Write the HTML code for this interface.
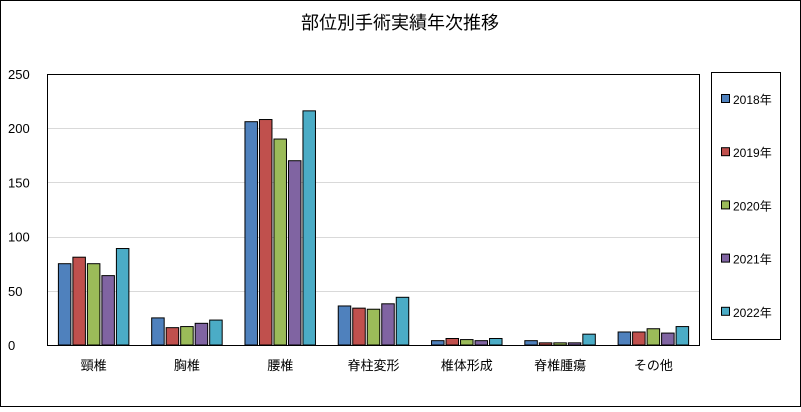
<!DOCTYPE html>
<html><head><meta charset="utf-8"><style>
body{margin:0;background:#fff}
svg text{font-family:"Liberation Sans","Noto Sans CJK JP",sans-serif}
</style></head><body>
<svg width="801" height="407" viewBox="0 0 801 407">
<rect x="0.5" y="0.5" width="800" height="406" fill="#fff" stroke="#000"/>
<text x="400" y="29" font-size="18" text-anchor="middle" fill="#000">部位別手術実績年次推移</text>
<g id="grid"></g>
<g id="bars"></g>
<rect x="47.5" y="74.5" width="652" height="271" fill="none" stroke="#000"/>
<g id="legend"><rect x="711.5" y="72.5" width="69" height="267" fill="#fff" stroke="#000"/></g>
</svg>
<script>
const categories=["頸椎","胸椎","腰椎","脊柱変形","椎体形成","脊椎腫瘍","その他"];
const seriesNames=["2018年","2019年","2020年","2021年","2022年"];
const s2018=[75,25,206,36,4,4,12];
const s2019=[81,16,208,34,6,2,12];
const s2020=[75,17,190,33,5,2,15];
const s2021=[64,20,170,38,4,2,11];
const s2022=[89,23,216,44,6,10,17];
const yTicks=[0,50,100,150,200,250];
const colors=["#4f81bd","#c0504d","#9bbb59","#8064a2","#4bacc6"];
const series=[s2018,s2019,s2020,s2021,s2022];
const NS="http://www.w3.org/2000/svg";
const X0=47,X1=700,Y0=345,Y1=74,YMAX=250;
const y=v=>Y0-(v/YMAX)*(Y0-Y1);
const bandW=(X1-X0)/categories.length;
const grid=document.getElementById('grid'),bars=document.getElementById('bars'),leg=document.getElementById('legend');
function mk(tag,attrs,parent){const e=document.createElementNS(NS,tag);for(const k in attrs)e.setAttribute(k,attrs[k]);parent.appendChild(e);return e;}
yTicks.forEach(t=>{
  const yy=Math.round(y(t))+0.5;
  if(t>0&&t<YMAX){const l=mk('line',{x1:X0,x2:X1,y1:yy,y2:yy,stroke:'#d9d9d9'},grid);
  
  }
  const tx=mk('text',{x:8,y:y(t)+5,'font-size':13,fill:'#000'},grid);
  tx.textContent=t;
  
  
});
const bw=12.5,gap=2;
categories.forEach((c,i)=>{
  const cx=X0+bandW*(i+0.5);
  const total=series.length*bw+(series.length-1)*gap;
  series.forEach((s,j)=>{
    const bx=cx-total/2+j*(bw+gap);
    const r=mk('rect',{x:bx,y:y(s[i]),width:bw,height:Y0-y(s[i]),fill:colors[j],stroke:'#000','stroke-width':1},bars);
    
    
  });
  const t=mk('text',{x:cx,y:370,'font-size':13,'text-anchor':'middle',fill:'#000'},bars);
  t.textContent=c;
  
  
});
seriesNames.forEach((n,j)=>{
  const ly=99+j*53.2;
  const r=mk('rect',{x:721.5,y:ly-4.5,width:8,height:8,fill:colors[j],stroke:'#000'},leg);
  
  
  const t=mk('text',{x:733,y:ly+5,'font-size':12,fill:'#000'},leg);
  t.textContent=n;
  
  
});
</script>
</body></html>
